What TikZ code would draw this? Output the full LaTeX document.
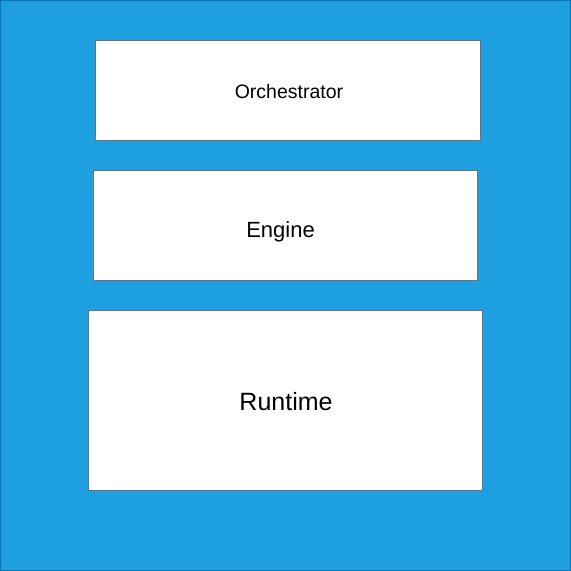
\documentclass[tikz,border=0pt]{standalone}
\usepackage{fontspec}
\setmainfont{Liberation Sans}
\definecolor{skyfill}{RGB}{30,159,224}
\definecolor{skyedge}{RGB}{16,112,176}
\definecolor{boxedge}{RGB}{112,112,112}
\begin{document}
\begin{tikzpicture}[x=1pt,y=-1pt,
  layer/.style={draw=boxedge,line width=1pt,fill=white,inner sep=0pt,outer sep=0pt},
  tag/.style={anchor=base,inner sep=0pt}]
\draw[fill=skyfill,draw=skyedge,line width=1.2pt] (0.6,0.6) rectangle (570.4,570.4);
\draw[layer] (95.5,40.5) rectangle (480.5,140.5) node(orchestrator)[midway]{};
\node[tag,font=\fontsize{19.5}{24}\selectfont] at (289,98) {Orchestrator};
\draw[layer] (93,170.5) rectangle (477.5,280) node(engine)[midway]{};
\node[tag,font=\fontsize{22}{26}\selectfont] at (280.5,237) {Engine};
\draw[layer] (88,310.5) rectangle (482.5,490) node(runtime)[midway]{};
\node[tag,font=\fontsize{25}{30}\selectfont] at (286,410.5) {Runtime};
\end{tikzpicture}
\end{document}
